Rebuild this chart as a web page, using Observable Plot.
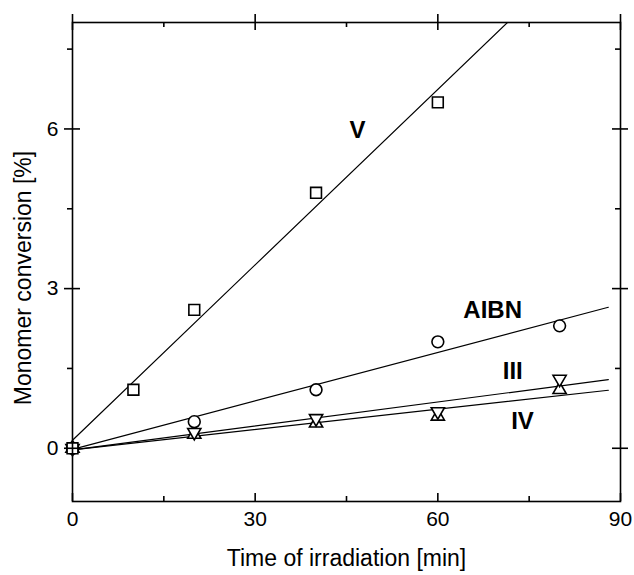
<!DOCTYPE html>
<html>
<head>
<meta charset="utf-8">
<script src="https://cdn.jsdelivr.net/npm/d3@7"></script>
<script src="https://cdn.jsdelivr.net/npm/@observablehq/plot@0.6"></script>
<style>
  html, body { margin: 0; padding: 0; background: #fff; }
</style>
</head>
<body>
<div id="chart"></div>
<script>
// ---- data ----
const timeV = [0, 10, 20, 40, 60];
const convV = [0, 1.1, 2.6, 4.8, 6.5];
const timeAIBN = [0, 20, 40, 60, 80];
const convAIBN = [0, 0.5, 1.1, 2.0, 2.3];
const timeIII = [0, 20, 40, 60, 80];
const convIII = [0, 0.3, 0.56, 0.69, 1.3];
const timeIV = [0, 20, 40, 60, 80];
const convIV = [0, 0.26, 0.47, 0.6, 1.1];

// linear fits (start and end of each fitted line)
const fitNames = ["V", "AIBN", "III", "IV"];
const fitX = [0, 88];
const fitStart = [0.15, -0.02, -0.03, -0.03];
const fitEnd = [9.82, 2.65, 1.29, 1.09];

// label positions
const labelText = ["V", "AIBN", "III", "IV"];
const labelX = [46.8, 69.0, 72.3, 73.9];
const labelY = [5.97, 2.59, 1.44, 0.5];

// ticks
const xMajor = [0, 30, 60, 90];
const xMinor = [15, 45, 75];
const yMajor = [0, 3, 6];
const yMinor = [1.5, 4.5, 7.5];
const xTitle = "Time of irradiation [min]";
const yTitle = "Monomer conversion [%]";

// ---- build tables ----
const pts = (t, c) => t.map((d, i) => ({t: d, c: c[i]}));
const fits = fitNames.flatMap((n, i) => [
  {name: n, t: fitX[0], c: fitStart[i]},
  {name: n, t: fitX[1], c: fitEnd[i]}
]);
const labels = labelText.map((s, i) => ({s, x: labelX[i], y: labelY[i]}));

const W = 634, H = 575, mL = 72, mR = 14, mT = 22, mB = 74;
const pw = W - mL - mR, ph = H - mT - mB;
const sw = 1.6;
const font = "'Liberation Sans', Arial, Helvetica, sans-serif";

const chart = Plot.plot({
  width: W, height: H,
  marginLeft: mL, marginRight: mR, marginTop: mT, marginBottom: mB,
  x: {domain: [0, 90], axis: null},
  y: {domain: [-1, 8], axis: null},
  style: {fontFamily: font, background: "#fff", color: "#000", overflow: "visible"},
  marks: [
    // fitted lines
    Plot.line(fits, {x: "t", y: "c", z: "name", stroke: "#000", strokeWidth: 1.2, clip: true}),
    // markers
    Plot.dot(pts(timeIV, convIV), {x: "t", y: "c", symbol: "triangle", r: 4.9, stroke: "#000", strokeWidth: sw, fill: "#fff"}),
    Plot.dot(pts(timeIII, convIII), {x: "t", y: "c", symbol: "triangle", rotate: 180, r: 4.9, stroke: "#000", strokeWidth: sw, fill: "#fff"}),
    Plot.dot(pts(timeAIBN, convAIBN), {x: "t", y: "c", symbol: "circle", r: 5.9, stroke: "#000", strokeWidth: sw, fill: "#fff"}),
    Plot.dot(pts(timeV, convV), {x: "t", y: "c", symbol: "square", r: 6.1, stroke: "#000", strokeWidth: sw, fill: "#fff"}),
    // series labels
    Plot.text(labels, {x: "x", y: "y", text: "s", fontSize: 24, fontWeight: "bold", fill: "#000"}),
    // frame
    Plot.frame({stroke: "#000", strokeWidth: sw}),
    // ticks: bottom (inward)
    Plot.tickX(xMajor, {x: d => d, insetTop: ph - 8, stroke: "#000", strokeWidth: sw}),
    Plot.tickX(xMinor, {x: d => d, insetTop: ph - 5, stroke: "#000", strokeWidth: sw}),
    // ticks: top (major crossing, minor inward)
    Plot.tickX(xMajor, {x: d => d, insetBottom: ph - 8, insetTop: -8, stroke: "#000", strokeWidth: sw}),
    Plot.tickX(xMinor, {x: d => d, insetBottom: ph - 5, stroke: "#000", strokeWidth: sw}),
    // ticks: left (major crossing, minor outward)
    Plot.tickY(yMajor, {y: d => d, insetRight: pw - 8, insetLeft: -8, stroke: "#000", strokeWidth: sw}),
    Plot.tickY(yMinor, {y: d => d, insetRight: pw, insetLeft: -5, stroke: "#000", strokeWidth: sw}),
    // ticks: right (major crossing, minor inward)
    Plot.tickY(yMajor, {y: d => d, insetLeft: pw - 8, insetRight: -8, stroke: "#000", strokeWidth: sw}),
    Plot.tickY(yMinor, {y: d => d, insetLeft: pw - 5, stroke: "#000", strokeWidth: sw}),
    // tick labels
    Plot.text(xMajor, {x: d => d, text: d => String(d), frameAnchor: "bottom", dy: 24, fontSize: 21, fill: "#000"}),
    Plot.text(yMajor, {y: d => d, text: d => String(d), frameAnchor: "left", dx: -14, textAnchor: "end", fontSize: 21, fill: "#000"}),
    // axis titles
    Plot.text([xTitle], {text: d => d, frameAnchor: "bottom", dy: 64, textAnchor: "middle", fontSize: 23, fill: "#000"}),
    Plot.text([yTitle], {text: d => d, frameAnchor: "left", dx: -49, dy: 16, textAnchor: "middle", rotate: -90, fontSize: 23, fill: "#000"})
  ]
});
document.getElementById("chart").appendChild(chart);
</script>
</body>
</html>
